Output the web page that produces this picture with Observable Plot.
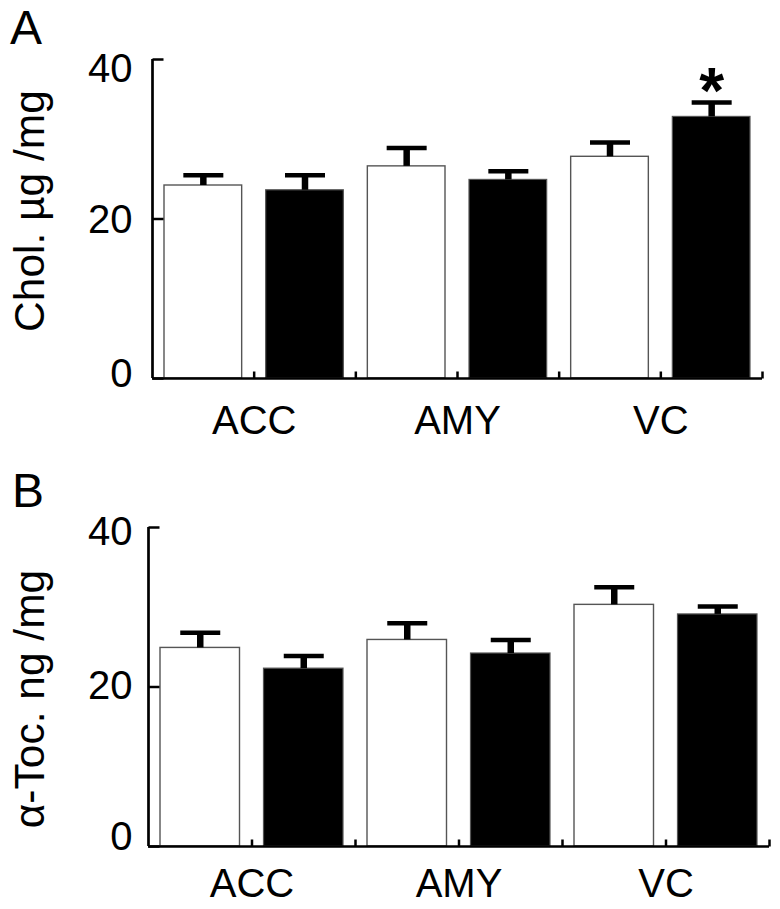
<!DOCTYPE html>
<html><head><meta charset="utf-8">
<script src="https://cdn.jsdelivr.net/npm/d3@7"></script>
<script src="https://cdn.jsdelivr.net/npm/@observablehq/plot@0.6"></script>
<style>
body{margin:0;background:#fff;}
#root{position:relative;width:780px;height:909px;font-family:"Liberation Sans",Arial,sans-serif;overflow:hidden;}
#root svg{position:absolute;left:0;}
.plabel{position:absolute;font-size:48px;line-height:48px;color:#000;}
</style></head><body><div id="root"></div>
<script>
// ---- data ----
const categories = ["ACC", "AMY", "VC"];
const groups = ["control", "treated"];

const cholMeanControl = [24.2, 26.6, 27.8];
const cholSeControl   = [1.3, 2.3, 1.8];
const cholMeanTreated = [23.6, 24.9, 32.8];
const cholSeTreated   = [1.9, 1.1, 1.8];
const cholSignificant = [[false, false], [false, false], [false, true]];

const tocMeanControl = [24.9, 25.9, 30.3];
const tocSeControl   = [1.9, 2.1, 2.2];
const tocMeanTreated = [22.3, 24.2, 29.1];
const tocSeTreated   = [1.6, 1.7, 1.0];
const tocSignificant = [[false, false], [false, false], [false, false]];

const yTicks = [0, 20, 40];
const yDomain = [0, 40];

function buildRows(meanC, seC, meanT, seT, sig) {
  const rows = [];
  categories.forEach((c, i) => {
    [[meanC, seC], [meanT, seT]].forEach(([m, s], g) => {
      rows.push({category: c, group: groups[g], g, idx: 2 * i + g, mean: m[i], se: s[i], sig: sig[i][g]});
    });
  });
  return rows;
}

const capSymbol = {draw(ctx) { ctx.moveTo(-20, 0); ctx.lineTo(20, 0); }};
const yTickSymbol = {draw(ctx) { ctx.moveTo(0, 0); ctx.lineTo(11, 0); }};
const xTickSymbol = {draw(ctx) { ctx.moveTo(0, 0); ctx.lineTo(0, -7); }};

function panel(rows, opts) {
  const nBands = rows.length;
  const boundaries = d3.range(1, nBands + 1);
  const marks = [
    Plot.rect(rows.filter(d => d.g === 0), {x1: d => d.idx, x2: d => d.idx + 1, y1: () => 0, y2: "mean",
      insetLeft: 12, insetRight: 12, fill: "white", stroke: "#555", strokeWidth: 1.4}),
    Plot.rect(rows.filter(d => d.g === 1), {x1: d => d.idx, x2: d => d.idx + 1, y1: () => 0, y2: "mean",
      insetLeft: 12, insetRight: 12, fill: "black", stroke: "#555", strokeWidth: 1.2}),
    Plot.ruleX(rows, {x: d => d.idx + 0.5, y1: "mean", y2: d => d.mean + d.se, stroke: "black", strokeWidth: 6.5}),
    Plot.dot(rows, {x: d => d.idx + 0.5, y: d => d.mean + d.se, symbol: capSymbol, fill: "none", stroke: "black", strokeWidth: 4.5}),
    Plot.text(rows.filter(d => d.sig), {x: d => d.idx + 0.5, y: d => d.mean + d.se, text: () => "*",
      fontSize: 64, fontWeight: "bold", lineAnchor: "middle", textAnchor: "middle", dy: -10}),
    // axes lines
    Plot.ruleX([0], {stroke: "black", strokeWidth: 2.7}),
    Plot.ruleY([0], {stroke: "black", strokeWidth: 2.5}),
    // y ticks (inward)
    Plot.dot(yTicks, {frameAnchor: "left", y: d => d, symbol: yTickSymbol, fill: "none", stroke: "black", strokeWidth: 2.5}),
    // x ticks (upward) at band boundaries
    Plot.dot(boundaries, {frameAnchor: "bottom", x: d => d, symbol: xTickSymbol, fill: "none", stroke: "black", strokeWidth: 2.5}),
    // category labels
    Plot.text(categories, {x: (d, i) => 2 * i + 1, frameAnchor: "bottom", lineAnchor: "top", dy: opts.catDy,
      fontSize: 40, fill: "black"}),
    // y label
    Plot.text([opts.label], {frameAnchor: "left", rotate: -90, dx: opts.labelDx, dy: opts.labelDy,
      textAnchor: "middle", lineAnchor: "middle", fontSize: 42.5, fill: "black"})
  ];
  yTicks.forEach((t, k) => {
    marks.push(Plot.text([t], {frameAnchor: "left", y: d => d, text: d => String(d), dx: -opts.tickGap,
      dy: opts.tickDy[k], textAnchor: "end", lineAnchor: "middle", fontSize: 40, fill: "black"}));
  });
  return Plot.plot({
    width: 780,
    height: opts.height,
    marginLeft: opts.ml, marginRight: opts.mr, marginTop: opts.mt, marginBottom: opts.mb,
    x: {type: "linear", domain: [0, nBands], axis: null},
    y: {domain: yDomain, axis: null},
    style: {fontFamily: "Liberation Sans, Arial, sans-serif", background: "transparent", overflow: "visible"},
    marks
  });
}

const root = document.getElementById("root");

const svgA = panel(buildRows(cholMeanControl, cholSeControl, cholMeanTreated, cholSeTreated, cholSignificant), {
  label: "Chol. \u00b5g /mg", height: 455, ml: 152, mr: 18, mt: 59, mb: 77,
  catDy: 27, labelDx: -122.6, labelDy: -8, tickGap: 20, tickDy: [-4, 1, 10]
});
svgA.style.top = "0px";
root.appendChild(svgA);

const svgB = panel(buildRows(tocMeanControl, tocSeControl, tocMeanTreated, tocSeTreated, tocSignificant), {
  label: "\u03b1-Toc. ng /mg", height: 454, ml: 148, mr: 11, mt: 72, mb: 63,
  catDy: 22, labelDx: -118.6, labelDy: 12, tickGap: 16, tickDy: [-9, -1, 5]
});
svgB.style.top = "455px";
root.appendChild(svgB);

const la = document.createElement("div");
la.className = "plabel"; la.textContent = "A"; la.style.left = "10px"; la.style.top = "4px";
root.appendChild(la);
const lb = document.createElement("div");
lb.className = "plabel"; lb.textContent = "B"; lb.style.left = "12px"; lb.style.top = "467px";
root.appendChild(lb);
</script></body></html>
